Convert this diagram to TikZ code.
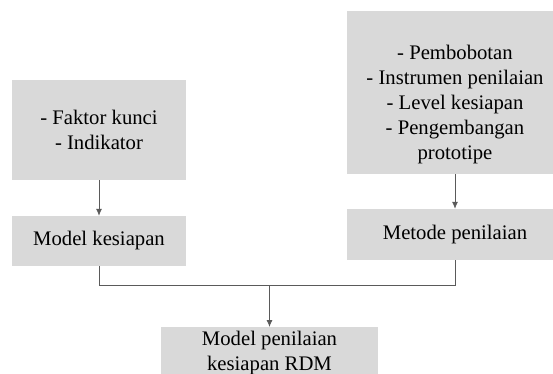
\documentclass[tikz,border=0pt]{standalone}
\usepackage{fontspec}
\setmainfont{Liberation Serif}
\usetikzlibrary{arrows.meta}
\definecolor{boxgray}{HTML}{D9D9D9}
\definecolor{linegray}{HTML}{5A5A5A}
\begin{document}
\begin{tikzpicture}[x=1pt,y=-1pt,
  box/.style={fill=boxgray, draw=none, align=center, inner sep=0pt,
    font=\fontsize{20.7}{25}\selectfont},
  conn/.style={draw=linegray, line width=0.8pt},
  arr/.style={conn, -{Latex[length=7pt,width=6pt]}}]
\useasboundingbox (0,0) rectangle (553,373);
\clip (0,0) rectangle (553,373);
\node[box, minimum width=174pt, minimum height=100pt] (fk) at (99,130) {- Faktor kunci\\- Indikator};
\node[box, minimum width=174pt, minimum height=50pt] (mk) at (99,241) {Model kesiapan};
\node[box, minimum width=216pt, minimum height=163pt] (pb) at (455,92.5) {};
\node[box, fill=none] (pbt) at (455,104.5) {- Pembobotan\\- Instrumen penilaian\\- Level kesiapan\\- Pengembangan\\prototipe};
\node[box, minimum width=174pt, minimum height=51pt, minimum width=216pt] (mp) at (455,234.5) {Metode penilaian};
\node[box, minimum width=217pt, minimum height=52pt, anchor=north] (rdm) at (269.5,327) {Model penilaian\\kesiapan RDM};
\coordinate (j) at (269.5,285);
\draw[arr] (fk) -- (mk);
\draw[arr] (pb) -- (mp);
\draw[conn] (mk.south) |- (j);
\draw[conn] (mp.south) |- (j);
\draw[arr] (j) -- (rdm.north);
\end{tikzpicture}
\end{document}
